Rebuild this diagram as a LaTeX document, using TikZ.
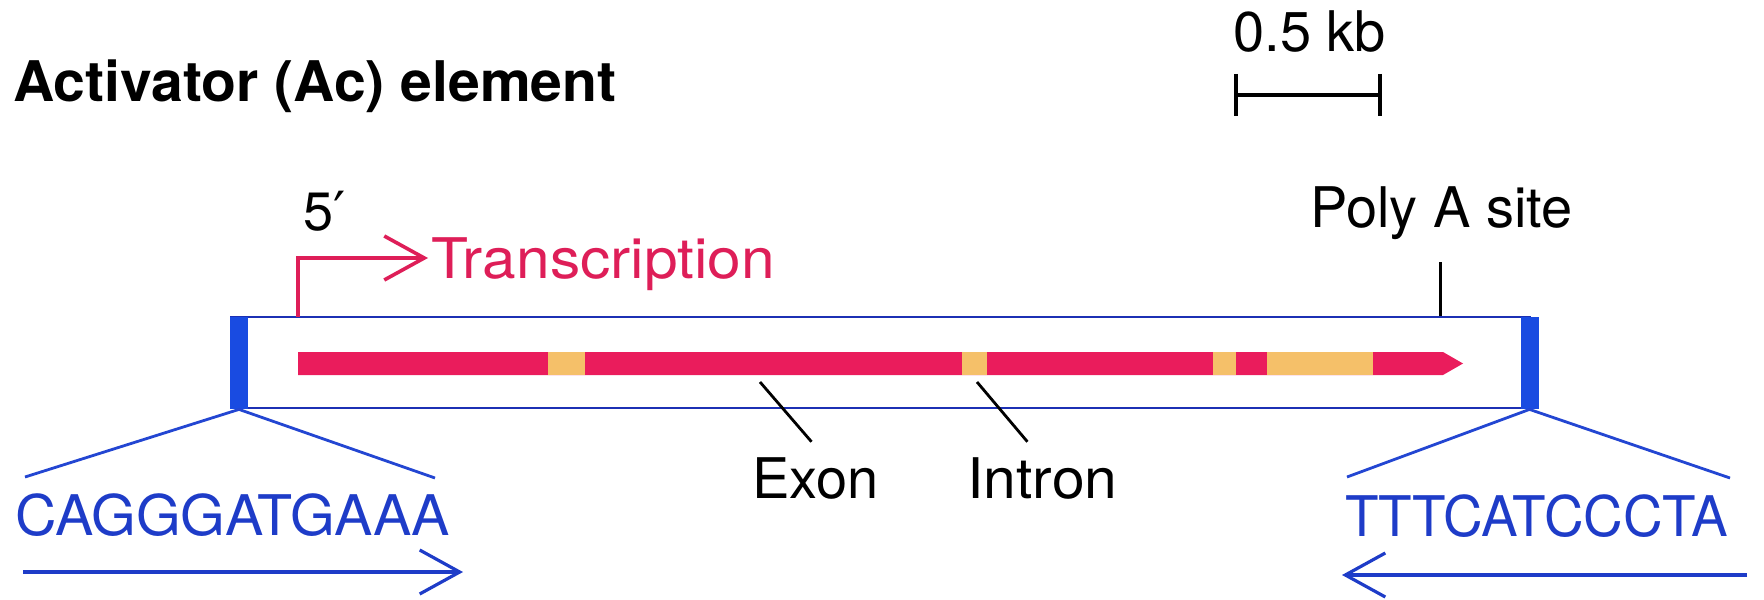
\documentclass[tikz,border=0pt]{standalone}
\usepackage{fontspec}
\setmainfont{TeX Gyre Heros}
\newfontfamily\dejavu{DejaVu Sans}
\usetikzlibrary{arrows.meta}
\definecolor{boxblue}{RGB}{28,48,180}
\definecolor{barblue}{RGB}{25,75,225}
\definecolor{flankblue}{RGB}{35,70,210}
\definecolor{seqblue}{RGB}{30,60,200}
\definecolor{genered}{RGB}{234,28,92}
\definecolor{txtred}{RGB}{222,30,88}
\definecolor{intronc}{RGB}{245,192,105}
\begin{document}
\begin{tikzpicture}[x=0.5pt,y=-0.5pt,
  lbl/.style={inner sep=0pt,anchor=base west,font=\fontsize{28}{34}\selectfont},
  ttl/.style={lbl,font=\fontsize{28}{34}\selectfont\bfseries},
  seqtxt/.style={lbl,text=seqblue},
  pointer/.style={draw=black,line width=1.4pt},
  flank/.style={draw=flankblue,line width=1.4pt},
  seqarrow/.style={draw=seqblue,line width=1.6pt,-{Straight Barb[length=20pt,width=22pt]}},
  endbar/.style={fill=barblue,inner sep=0pt,minimum width=9pt,minimum height=46pt},
  intronbox/.style={fill=intronc}
]
\useasboundingbox (0,0) rectangle (1764,599);

% title and scale
\node[ttl] (title) at (13,102) {\scalebox{1.02}[1]{Activator (Ac) element}};
\node[lbl] (scale) at (1233,52) {0.5 kb};
\coordinate (sbL) at (1236,95);
\coordinate (sbR) at (1380,95);
\draw[line width=1.8pt] (sbL) -- (sbR);
\draw[line width=1.8pt] ([yshift=10.5pt]sbL) -- ([yshift=-10.5pt]sbL);
\draw[line width=1.8pt] ([yshift=10.5pt]sbR) -- ([yshift=-10.5pt]sbR);

% element box
\node[draw=boxblue,line width=1.4pt,inner sep=0pt,minimum width=649.5pt,minimum height=45.5pt] (box) at (880.5,362.5) {};
\node[endbar] (lbar) at (239,363) {};
\node[endbar] (rbar) at (1529.5,363) {};

% gene
\fill[genered] (298,352) -- (1443,352) -- (1463,363.5) -- (1443,375) -- (298,375) -- cycle;
\fill[intronbox] (548,352) rectangle (585,375);
\fill[intronbox] (962,352) rectangle (987,375);
\fill[intronbox] (1213,352) rectangle (1236,375);
\fill[intronbox] (1267,352) rectangle (1373,375);

% labels above
\node[lbl,font=\fontsize{27}{34}\selectfont] (five) at (303,230) {5{\dejavu ′}};
\node[lbl,text=txtred] (trans) at (431,278) {\scalebox{1.08}[1]{Transcription}};
\coordinate (tstart) at (298,317);
\coordinate (tcorner) at (298,258);
\coordinate (ttip) at (428,258);
\draw[txtred,line width=1.8pt,-{Straight Barb[length=20pt,width=22pt]}] (tstart) -- (tcorner) -- (ttip);

\node[lbl] (polya) at (1310,227) {Poly A site};
\coordinate (ptick) at (1440,262);
\draw[line width=1.5pt] (ptick) -- (ptick |- box.north);

% exon / intron labels
\node[lbl] (exon) at (752,498) {Exon};
\node[lbl] (intron) at (967,498) {\scalebox{1.05}[1]{Intron}};
\coordinate (exonp) at (760,382);
\coordinate (intronp) at (977,382);
\draw[pointer] (exonp) -- ([xshift=-2pt,yshift=7.5pt]exon.north);
\draw[pointer] (intronp) -- ([xshift=-7.5pt,yshift=7.5pt]intron.north);

% flanking inverted repeats
\coordinate (lf1) at (25,477);
\coordinate (lf2) at (435,478);
\coordinate (rf1) at (1347,477);
\coordinate (rf2) at (1730,478);
\draw[flank] (lf1) -- (lbar.south) -- (lf2);
\draw[flank] (rf1) -- (rbar.south) -- (rf2);

\node[seqtxt] (seqL) at (15,535) {\scalebox{1.025}[1]{CAGGGATGAAA}};
\node[seqtxt] (seqR) at (1345,536) {\scalebox{0.98}[1]{TTTCATCCCTA}};
\coordinate (aL1) at (23,572);
\coordinate (aL2) at (463,572);
\coordinate (aR1) at (1747,575);
\coordinate (aR2) at (1342,575);
\draw[seqarrow] (aL1) -- (aL2);
\draw[seqarrow] (aR1) -- (aR2);
\end{tikzpicture}
\end{document}
